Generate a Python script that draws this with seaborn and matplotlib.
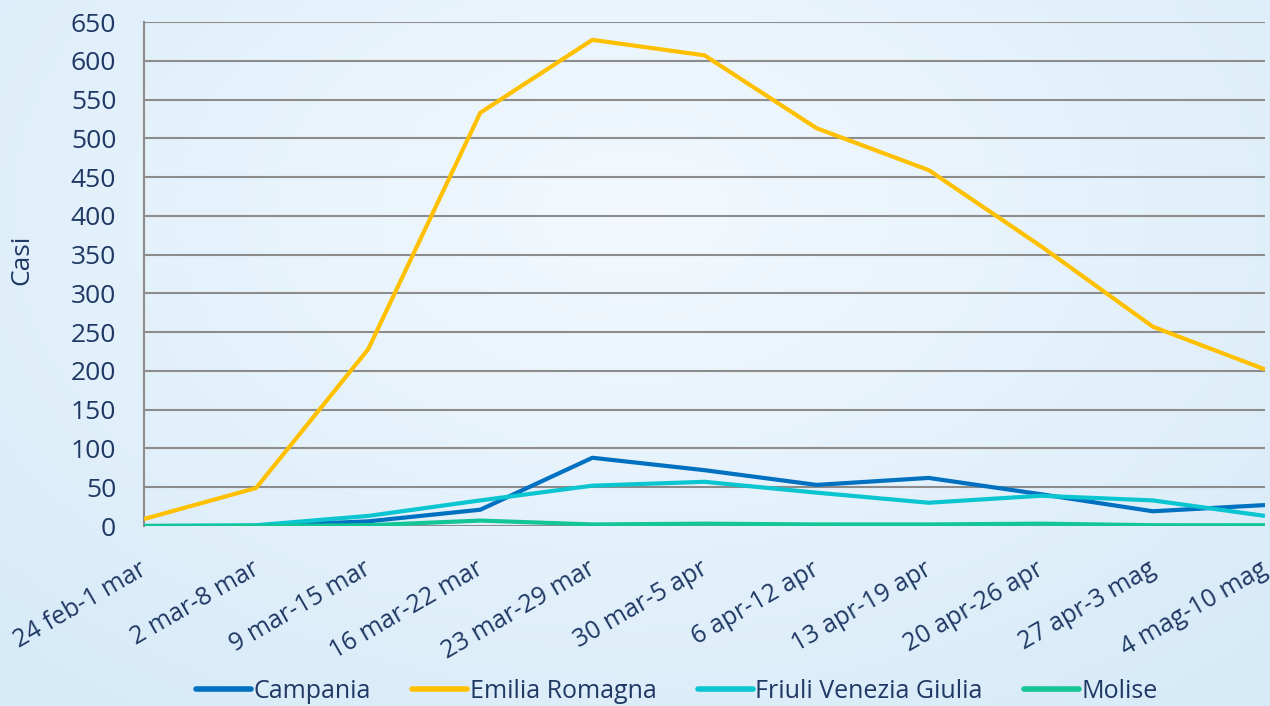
import numpy as np
import pandas as pd
import matplotlib
matplotlib.use("Agg")
import matplotlib.pyplot as plt
import matplotlib.transforms as mtransforms
from matplotlib.lines import Line2D
import seaborn as sns

weeks = ["24 feb-1 mar", "2 mar-8 mar", "9 mar-15 mar", "16 mar-22 mar",
         "23 mar-29 mar", "30 mar-5 apr", "6 apr-12 apr", "13 apr-19 apr",
         "20 apr-26 apr", "27 apr-3 mag", "4 mag-10 mag"]
campania = [0, 0, 6, 21, 88, 72, 53, 62, 41, 19, 27]
emilia = [9, 49, 228, 533, 627, 607, 513, 459, 361, 257, 202]
friuli = [0, 1, 13, 33, 52, 57, 43, 30, 39, 33, 13]
molise = [0, 0, 1, 7, 2, 3, 2, 2, 3, 1, 1]
regions = ["Campania", "Emilia Romagna", "Friuli Venezia Giulia", "Molise"]
colors = ["#0070C0", "#FFC000", "#0BC5D0", "#14C596"]
yticks = list(range(0, 651, 50))

rows = []
for name, vals in zip(regions, [campania, emilia, friuli, molise]):
    for i, (w, v) in enumerate(zip(weeks, vals)):
        rows.append({"idx": i, "week": w, "region": name, "casi": v})
df = pd.DataFrame(rows)

sns.set_theme(style="white")
plt.rcParams["font.family"] = ["Open Sans", "DejaVu Sans"]
txt = "#1F3864"
fs = 19

fig = plt.figure(figsize=(12.7, 7.06), dpi=100)

# background gradient
bg = fig.add_axes([0, 0, 1, 1], zorder=-10)
h, w = 200, 360
yy, xx = np.mgrid[0:h, 0:w]
xx = xx / (w - 1)
yy = yy / (h - 1)
d = np.sqrt(((xx - 0.5) / 0.75) ** 2 + ((yy - 0.3) / 0.9) ** 2)
d = np.clip(d, 0, 1)
c0 = np.array([0xF3, 0xF9, 0xFE]) / 255
c1 = np.array([0xD6, 0xEA, 0xF8]) / 255
img = c0[None, None, :] * (1 - d[..., None]) + c1[None, None, :] * d[..., None]
bg.imshow(img, aspect="auto", extent=[0, 1, 0, 1], origin="upper")
bg.axis("off")

ax = fig.add_axes([144 / 1270, 1 - 526 / 706, (1265 - 144) / 1270, (526 - 22) / 706])
ax.patch.set_alpha(0)
sns.lineplot(data=df, x="idx", y="casi", hue="region", palette=colors,
             hue_order=regions, linewidth=3.0, ax=ax, legend=False,
             solid_capstyle="butt", zorder=3)

ax.set_xlim(0, 10)
ax.set_ylim(0, 650)
ax.set_yticks(yticks)
ax.set_yticklabels([str(t) for t in yticks], fontsize=fs, color=txt)
ax.set_xticks(range(len(weeks)))
ax.set_xticklabels(weeks, fontsize=18, color=txt, rotation=30,
                   ha="right", va="top", rotation_mode="anchor")
ax.tick_params(axis="x", pad=22, length=0)
ax.tick_params(axis="y", pad=20, length=0)
off = mtransforms.ScaledTranslation(-5 / 100, 0, fig.dpi_scale_trans)
for lab in ax.get_xticklabels():
    lab.set_transform(lab.get_transform() + off)
ax.grid(axis="y", color="#8C8C8C", linewidth=1.5, zorder=1)
ax.grid(axis="x", visible=False)
for s in ["top", "right", "bottom"]:
    ax.spines[s].set_visible(False)
ax.spines["left"].set_color("#8C8C8C")
ax.spines["left"].set_linewidth(1.5)
ax.set_xlabel("")
ax.set_ylabel("Casi", fontsize=fs, color=txt)
ax.yaxis.set_label_coords(-0.098, 0.528)

handles = [Line2D([0], [0], color=c, linewidth=4, solid_capstyle="round") for c in colors]
fig.legend(handles, regions, loc="center", bbox_to_anchor=(0.533, 0.021),
           ncol=4, frameon=False, fontsize=18, handlelength=2.2,
           handletextpad=0.1, columnspacing=1.65, labelcolor=txt)

fig.savefig("out.png", dpi=100)
